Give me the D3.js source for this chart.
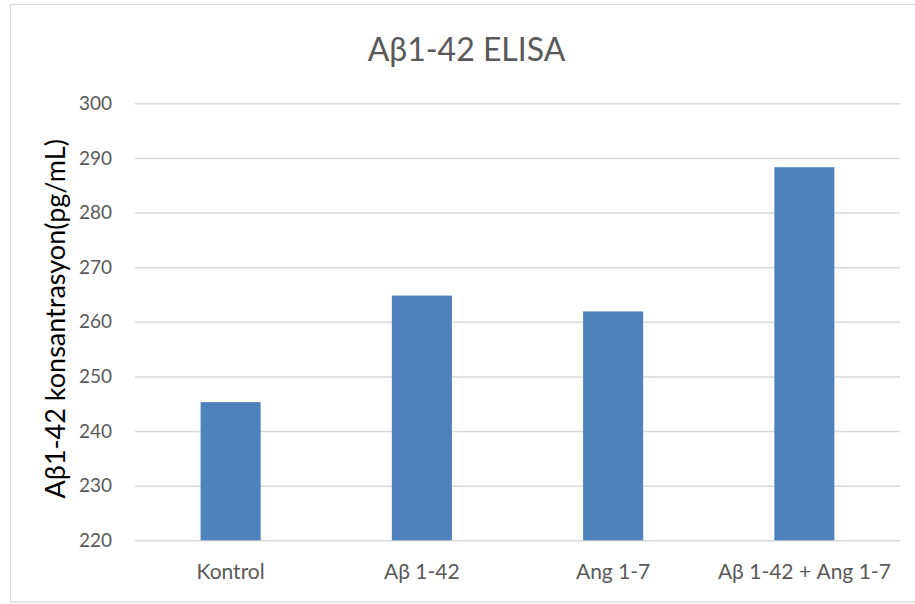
<!DOCTYPE html>
<html>
<head>
<meta charset="utf-8">
<script src="https://cdn.jsdelivr.net/npm/d3@7"></script>
<style>
  html, body { margin: 0; padding: 0; background: #fff; }
  svg { display: block; }
  text { font-family: Lato, "Open Sans", sans-serif; }
</style>
</head>
<body>
<svg id="chart" width="915" height="604"></svg>
<script>
// Measured Aβ1-42 concentrations per group (pg/mL)
const categories = ["Kontrol", "Aβ 1-42", "Ang 1-7", "Aβ 1-42 + Ang 1-7"];
const values = [245.3, 264.8, 261.9, 288.3];
const yTicks = [220, 230, 240, 250, 260, 270, 280, 290, 300];
const chartTitle = "Aβ1-42 ELISA";
const yTitle = "Aβ1-42 konsantrasyon(pg/mL)";

const svg = d3.select("#chart");
const W = 915, H = 604;
const plot = { left: 135, right: 900, top: 103.3, bottom: 540.3 };

// outer chart frame
svg.append("rect")
  .attr("x", 10.5).attr("y", 4.5)
  .attr("width", W).attr("height", 597.5)
  .attr("fill", "#fff")
  .attr("stroke", "#d9d9d9").attr("stroke-width", 1.2);

const x = d3.scaleBand()
  .domain(categories)
  .range([plot.left, plot.right])
  .paddingInner(0.686)
  .paddingOuter(0.343);

const y = d3.scaleLinear()
  .domain([220, 300])
  .range([plot.bottom, plot.top]);

// horizontal gridlines + tick labels
const yAxis = d3.axisLeft(y)
  .tickValues(yTicks)
  .tickSize(-(plot.right - plot.left))
  .tickPadding(23)
  .tickFormat(d3.format("d"));

const gy = svg.append("g")
  .attr("transform", `translate(${plot.left},0)`)
  .call(yAxis);
gy.select(".domain").remove();
gy.selectAll(".tick line")
  .attr("stroke", "#d9d9d9").attr("stroke-width", 1.5);
gy.selectAll(".tick text")
  .attr("fill", "#595959")
  .style("font-size", "19px");

// bars
svg.append("g")
  .selectAll("rect")
  .data(values)
  .join("rect")
  .attr("x", (d, i) => x(categories[i]))
  .attr("width", x.bandwidth())
  .attr("y", d => y(d))
  .attr("height", d => y(220) - y(d))
  .attr("fill", "#4f81bd");

// category axis labels
const xAxis = d3.axisBottom(x).tickSize(0).tickPadding(24);
const gx = svg.append("g")
  .attr("transform", `translate(0,${plot.bottom})`)
  .call(xAxis);
gx.select(".domain").remove();
gx.selectAll(".tick text")
  .attr("fill", "#595959")
  .style("font-size", "21px");

// chart title
svg.append("text")
  .attr("x", 466.5)
  .attr("y", 61)
  .attr("text-anchor", "middle")
  .attr("fill", "#595959")
  .style("font-size", "32px")
  .text(chartTitle);

// y-axis title
svg.append("text")
  .attr("transform", `translate(65,${(plot.top + plot.bottom) / 2 - 3}) rotate(-90)`)
  .attr("text-anchor", "middle")
  .attr("fill", "#000")
  .style("font-size", "27px")
  .text(yTitle);
</script>
</body>
</html>
